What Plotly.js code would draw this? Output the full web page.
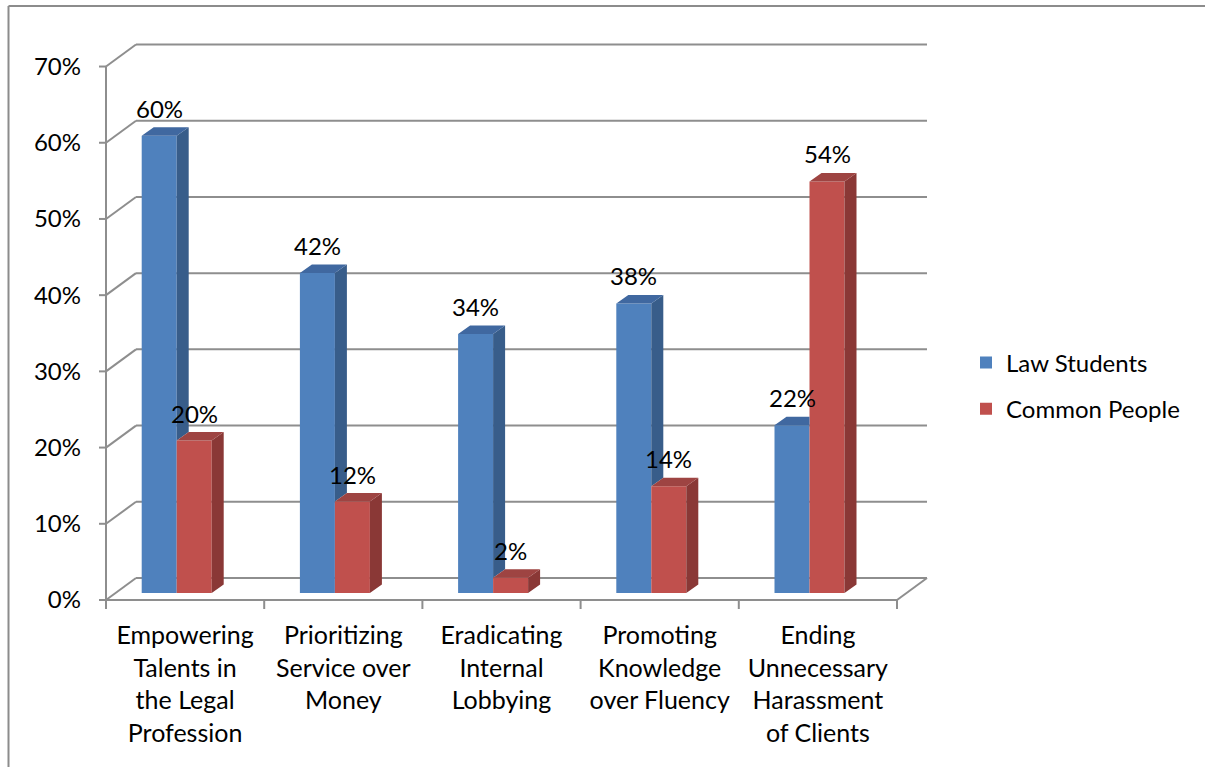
<!DOCTYPE html>
<html>
<head>
<meta charset="utf-8">
<script src="https://cdn.plot.ly/plotly-3.0.1.min.js"></script>
<style>html,body{margin:0;padding:0;background:#fff;}</style>
</head>
<body>
<div id="chart" style="width:1205px;height:767px;"></div>
<script>
// ---------------- data ----------------
const categories = [
  "Empowering<br>Talents in<br>the Legal<br>Profession",
  "Prioritizing<br>Service over<br>Money",
  "Eradicating<br>Internal<br>Lobbying",
  "Promoting<br>Knowledge<br>over Fluency",
  "Ending<br>Unnecessary<br>Harassment<br>of Clients"
];
const lawStudents  = [0.60, 0.42, 0.34, 0.38, 0.22];
const commonPeople = [0.20, 0.12, 0.02, 0.14, 0.54];
const seriesNames  = ["Law Students", "Common People"];
const yTickVals    = [0, 0.1, 0.2, 0.3, 0.4, 0.5, 0.6, 0.7];

// ---------------- geometry (pixel based styling) ----------------
const W = 1205, H = 767;
const M = {l: 90, r: 265, t: 38, b: 152};
const plotW = W - M.l - M.r, plotH = H - M.t - M.b;
const SX = 158.2;          // px per category
const SY = 762.1;          // px per 100%
const X0PX = 16;           // px from plot left to front axis
const Y0PX = 15;           // px from plot bottom to front floor
const xRange = [-0.5 - X0PX / SX, -0.5 + (plotW - X0PX) / SX];
const yRange = [-Y0PX / SY, (plotH - Y0PX) / SY];
const ux = px => px / SX, uy = px => px / SY;

const wallDX = ux(30), wallDY = uy(22);
const barDX = ux(12), barDY = uy(8.5);
const baseY = uy(7);
const barW = ux(35);
const offs = [ux(-43.4), ux(-43.4) + ux(35)];

const frontCols = ["#4F81BD", "#C0504D"];
const sideCols  = ["#385D8A", "#8A3836"];
const topCols   = ["#4068A0", "#9E4442"];
const gridCol = "#8e8e8e";
const FONT = "Lato, 'Open Sans', sans-serif";

const nCat = categories.length;
const xIdx = categories.map((_, i) => i);
const firstB = -0.5, lastB = nCat - 0.5;

// ---------------- frame shapes ----------------
const shapes = [];
const ln = (x0, y0, x1, y1) => ({type: "line", xref: "x", yref: "y", x0, y0, x1, y1,
  layer: "below", line: {color: gridCol, width: 2}});
yTickVals.forEach(v => {
  shapes.push(ln(firstB + wallDX, v + wallDY, lastB + wallDX, v + wallDY)); // back wall grid
  shapes.push(ln(firstB, v, firstB + wallDX, v + wallDY));                   // left wall
  shapes.push(ln(firstB - ux(7), v, firstB, v));                             // y tick mark
});
shapes.push(ln(firstB, 0, firstB, yTickVals[yTickVals.length - 1]));          // front y line
shapes.push(ln(firstB, 0, lastB, 0));                                         // front floor
shapes.push(ln(lastB, 0, lastB + wallDX, wallDY));                            // right floor
for (let b = firstB; b <= lastB + 1e-9; b += 1) shapes.push(ln(b, 0, b, -uy(9)));
// outer chart border (left & top)
const px2paperX = px => (px - M.l) / plotW, px2paperY = py => (H - M.b - py) / plotH;
shapes.push({type: "line", xref: "paper", yref: "paper", x0: px2paperX(8.5), x1: px2paperX(8.5),
  y0: px2paperY(6), y1: px2paperY(H), line: {color: "#8c8c8c", width: 2}});
shapes.push({type: "line", xref: "paper", yref: "paper", x0: px2paperX(8.5), x1: px2paperX(W),
  y0: px2paperY(6), y1: px2paperY(6), line: {color: "#8c8c8c", width: 2}});

// ---------------- traces ----------------
const series = [lawStudents, commonPeople];
const traces = [];
series.forEach((vals, s) => {
  traces.push({
    type: "bar", name: seriesNames[s], x: xIdx, y: vals,
    base: vals.map(() => baseY), width: barW, offset: offs[s],
    marker: {color: frontCols[s], line: {width: 0}},
    hoverinfo: "skip", legendgroup: "g" + s
  });
});
series.forEach((vals, s) => {
  const sx = [], sy = [], tx = [], ty = [];
  vals.forEach((v, i) => {
    const L = i + offs[s], R = L + barW, top = v + baseY;
    let bottom = baseY, clipTop = false;
    if (s === 0) {
      const vc = commonPeople[i] + baseY;
      if (v + baseY <= vc) { bottom = null; clipTop = true; } else bottom = vc;
    }
    if (bottom !== null) {
      sx.push(R, R + barDX, R + barDX, R, R, null);
      sy.push(bottom, bottom + barDY, top + barDY, top, bottom, null);
    }
    if (clipTop) {
      tx.push(L, R, R, L + barDX, L, null);
      ty.push(top, top, top + barDY, top + barDY, top, null);
    } else {
      tx.push(L, R, R + barDX, L + barDX, L, null);
      ty.push(top, top, top + barDY, top + barDY, top, null);
    }
  });
  traces.push({type: "scatter", mode: "lines", x: sx, y: sy, fill: "toself",
    fillcolor: sideCols[s], line: {width: 0, color: sideCols[s]}, showlegend: false, hoverinfo: "skip"});
  traces.push({type: "scatter", mode: "lines", x: tx, y: ty, fill: "toself",
    fillcolor: topCols[s], line: {width: 0, color: topCols[s]}, showlegend: false, hoverinfo: "skip"});
});

// ---------------- data labels ----------------
const annotations = [];
series.forEach((vals, s) => {
  vals.forEach((v, i) => {
    annotations.push({
      xref: "x", yref: "y", x: i + offs[s] + barW / 2, y: v + baseY,
      text: Math.round(v * 100) + "%", showarrow: false, yanchor: "bottom", xanchor: "center",
      yshift: 11, font: {family: FONT, size: 24, color: "#000"}
    });
  });
});

const layout = {
  width: W, height: H,
  margin: M,
  paper_bgcolor: "#fff", plot_bgcolor: "rgba(0,0,0,0)",
  font: {family: FONT, size: 24, color: "#000"},
  barmode: "overlay",
  showlegend: true,
  legend: {x: px2paperX(966), xanchor: "left", y: px2paperY(386), yanchor: "middle",
    font: {family: FONT, size: 24, color: "#000"}, traceorder: "grouped", tracegroupgap: 12,
    bgcolor: "rgba(0,0,0,0)"},
  xaxis: {range: xRange, tickmode: "array", tickvals: xIdx, ticktext: categories,
    showgrid: false, zeroline: false, showline: false, ticks: "", fixedrange: true,
    ticklabelstandoff: 3,
    tickfont: {family: FONT, size: 25, color: "#000"}},
  yaxis: {range: yRange, tickmode: "array", tickvals: yTickVals, tickformat: ".0%",
    showgrid: false, zeroline: false, showline: false, ticks: "", ticklabelstandoff: 8,
    fixedrange: true, tickfont: {family: FONT, size: 24, color: "#000"}},
  shapes, annotations
};

Plotly.newPlot("chart", traces, layout, {displayModeBar: false, staticPlot: true});
</script>
</body>
</html>
